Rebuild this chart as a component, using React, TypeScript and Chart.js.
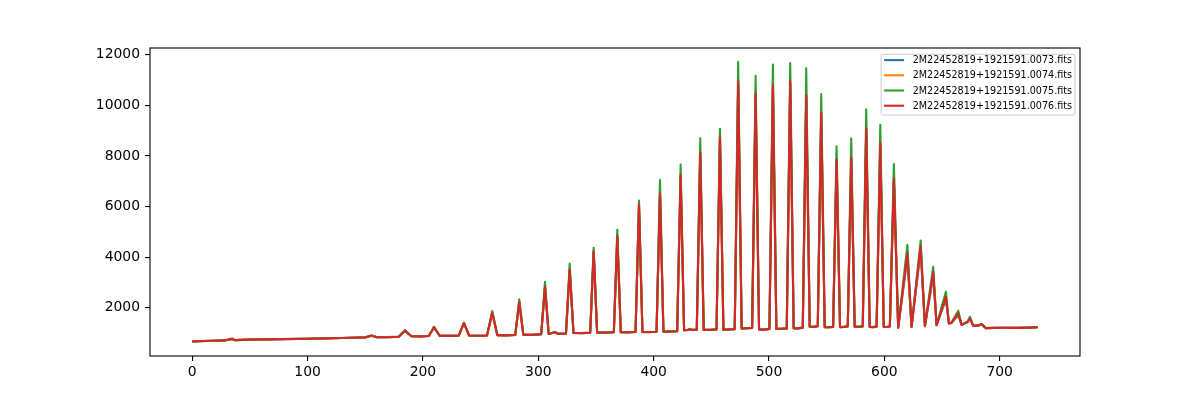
import { useEffect, useRef } from "react";
import { Chart, registerables } from "chart.js";

Chart.register(...registerables);

// pixel index (x) of every key point
const xPos = [
  0, 6, 12, 20, 28, 34.5, 37, 50, 65, 80, 100, 115, 130, 145, 150, 155.5, 160, 170, 179,
  184.4, 190, 198, 205, 209.6, 214.5, 222, 231, 235.5, 240, 248, 255.5, 260.1, 264.5, 272, 280,
  283.5, 287, 295, 302.5, 305.8, 309, 314.5, 317, 324, 327.2, 330.5, 338, 345,
  348, 351, 358, 365.5, 368.5, 371.5, 378, 384.3, 387.3, 390.3, 396, 402.5,
  405.5, 408.5, 414, 420.4, 423.4, 426.4, 430, 431.5, 433, 437.4,
  440.4, 443.4, 450, 454.5, 457.5, 460.5, 465, 470.3,
  473.3, 476.3, 481, 485.4, 488.4, 491.4, 495, 500.4,
  503.4, 506.4, 511, 515.4, 518.4, 521.4, 525, 529.3,
  532.3, 535.3, 539, 542.3, 545.3, 548.3, 552, 555.6,
  558.6, 561.6, 565, 568.3, 571.3, 574.3, 578, 581.3,
  584.3, 587.3, 590, 593.3, 596.5, 599.5, 602, 604.8,
  608.3, 612, 620, 623.6, 631.5, 635.2, 642.4, 645.3,
  653.4, 656, 658, 664.1, 667, 670, 672, 674.2, 677.1, 682, 684.3, 688,
  695, 705, 715, 725, 733,
];

const flux0073 = [
  665, 685, 698, 702, 718, 760, 722, 750, 755, 765, 784, 792, 812, 826, 833, 900, 840, 846, 860,
  1090, 878, 878, 888, 1220, 898, 897, 903, 1385, 908, 898, 908, 1780, 918, 917, 928,
  2200, 938, 937, 958, 2780, 968, 1040, 973, 988, 3460, 1008, 1007, 1018,
  4180, 1028, 1027, 1038, 4780, 1038, 1037, 1048, 5990, 1043, 1047, 1053,
  6440, 1058, 1072, 1078, 7150, 1118, 1132, 1165, 1128, 1138,
  8040, 1128, 1137, 1148, 8630, 1138, 1147, 1158,
  10820, 1188, 1197, 1208, 10340, 1148, 1142, 1168,
  10660, 1168, 1177, 1188, 10810, 1198, 1192, 1218,
  10260, 1258, 1252, 1278, 9570, 1238, 1237, 1248,
  7750, 1238, 1252, 1268, 7830, 1258, 1257, 1268,
  8970, 1248, 1242, 1258, 8400, 1248, 1247, 1268,
  6990, 1215, 3980, 1245, 4250, 1275, 3250, 1315,
  2330, 1385, 1395, 1720, 1325, 1395, 1435, 1560, 1285, 1308, 1350, 1198,
  1208, 1217, 1208, 1222, 1233,
];

const flux0074 = [
  672, 686, 690, 704, 716, 775, 726, 746, 757, 770, 781, 796, 809, 829, 836, 902, 843, 844, 863,
  1095, 881, 874, 891, 1225, 901, 896, 906, 1392, 911, 899, 911, 1795, 921, 916, 931,
  2220, 941, 936, 961, 2800, 971, 1042, 976, 991, 3490, 1011, 1006, 1021,
  4210, 1031, 1026, 1041, 4820, 1041, 1036, 1051, 6030, 1046, 1044, 1056,
  6480, 1061, 1071, 1081, 7200, 1121, 1131, 1168, 1131, 1141,
  8100, 1131, 1136, 1151, 8690, 1141, 1146, 1161,
  10900, 1191, 1196, 1211, 10420, 1151, 1141, 1171,
  10740, 1171, 1176, 1191, 10890, 1201, 1191, 1221,
  10340, 1261, 1251, 1281, 9640, 1241, 1236, 1251,
  7810, 1241, 1251, 1271, 7890, 1261, 1256, 1271,
  9040, 1251, 1241, 1261, 8470, 1251, 1246, 1271,
  7050, 1222, 4080, 1252, 4360, 1282, 3350, 1322,
  2400, 1392, 1402, 1760, 1332, 1402, 1442, 1575, 1292, 1311, 1358, 1201,
  1211, 1216, 1211, 1221, 1236,
];

const flux0075 = [
  675, 690, 692, 708, 712, 770, 728, 745, 760, 770, 780, 798, 808, 830, 838, 910, 845, 848, 865,
  1130, 882, 875, 892, 1260, 902, 893, 908, 1420, 912, 902, 912, 1880, 922, 913, 932,
  2335, 942, 933, 962, 3030, 972, 1050, 977, 992, 3750, 1012, 1003, 1022,
  4370, 1032, 1023, 1042, 5080, 1042, 1033, 1052, 6240, 1047, 1043, 1057,
  7045, 1062, 1068, 1082, 7660, 1122, 1128, 1175, 1132, 1142,
  8690, 1132, 1133, 1152, 9070, 1142, 1143, 1162,
  11716, 1192, 1193, 1212, 11160, 1152, 1138, 1172,
  11610, 1172, 1173, 1192, 11665, 1202, 1188, 1222,
  11455, 1262, 1248, 1282, 10440, 1242, 1233, 1252,
  8380, 1242, 1248, 1272, 8690, 1262, 1253, 1272,
  9840, 1252, 1238, 1262, 9230, 1252, 1243, 1272,
  7680, 1225, 4490, 1255, 4660, 1285, 3620, 1325,
  2640, 1395, 1405, 1890, 1335, 1405, 1445, 1650, 1295, 1312, 1370, 1202,
  1212, 1213, 1212, 1218, 1237,
];

const flux0076 = [
  670, 688, 695, 705, 715, 790, 725, 748, 758, 768, 782, 795, 810, 828, 835, 905, 842, 845, 862,
  1100, 880, 876, 890, 1230, 900, 895, 905, 1400, 910, 900, 910, 1810, 920, 915, 930,
  2240, 940, 935, 960, 2830, 970, 1045, 975, 990, 3520, 1010, 1005, 1020,
  4240, 1030, 1025, 1040, 4850, 1040, 1035, 1050, 6080, 1045, 1045, 1055,
  6520, 1060, 1070, 1080, 7240, 1120, 1130, 1170, 1130, 1140,
  8140, 1130, 1135, 1150, 8740, 1140, 1145, 1160,
  10950, 1190, 1195, 1210, 10470, 1150, 1140, 1170,
  10800, 1170, 1175, 1190, 10950, 1200, 1190, 1220,
  10400, 1260, 1250, 1280, 9700, 1240, 1235, 1250,
  7860, 1240, 1250, 1270, 7940, 1260, 1255, 1270,
  9090, 1250, 1240, 1260, 8520, 1250, 1245, 1270,
  7100, 1220, 4150, 1250, 4440, 1280, 3420, 1320,
  2440, 1390, 1400, 1780, 1330, 1400, 1440, 1585, 1290, 1310, 1360, 1200,
  1210, 1215, 1210, 1220, 1235,
];

const seriesLabels = [
  "2M22452819+1921591.0073.fits",
  "2M22452819+1921591.0074.fits",
  "2M22452819+1921591.0075.fits",
  "2M22452819+1921591.0076.fits",
];
const seriesColors = ["#1f77b4", "#ff7f0e", "#2ca02c", "#d62728"];

const xTicks = [0, 100, 200, 300, 400, 500, 600, 700];
const yTicks = [2000, 4000, 6000, 8000, 10000, 12000];

export default function App() {
  const ref = useRef<HTMLCanvasElement>(null);

  useEffect(() => {
    const canvas = ref.current;
    if (!canvas) return;
    const series = [flux0073, flux0074, flux0075, flux0076];

    const boxPlugin = {
      id: "mplBox",
      afterDatasetsDraw(chart: any) {
        const { ctx, chartArea: a } = chart;
        ctx.save();
        ctx.strokeStyle = "#000";
        ctx.lineWidth = 1.1;
        ctx.strokeRect(a.left, a.top, a.right - a.left, a.bottom - a.top);
        ctx.restore();
      },
    };

    const legendPlugin = {
      id: "mplLegend",
      afterDraw(chart: any) {
        const { ctx, chartArea: a } = chart;
        const fs = 9.6;
        ctx.save();
        ctx.font = `${fs}px "DejaVu Sans"`;
        const labels: string[] = chart.data.datasets.map((d: any) => d.label);
        const tw = Math.max(...labels.map((l) => ctx.measureText(l).width));
        const right = a.right - 5;
        const top = a.top + 6.3;
        const rowH = 15.2;
        const h = 60.7;
        const w = 31.6 + tw + 3;
        const left = right - w;
        ctx.beginPath();
        if ((ctx as any).roundRect) (ctx as any).roundRect(left, top, w, h, 2);
        else ctx.rect(left, top, w, h);
        ctx.fillStyle = "rgba(255,255,255,0.8)";
        ctx.fill();
        ctx.strokeStyle = "#cccccc";
        ctx.lineWidth = 1;
        ctx.stroke();
        labels.forEach((l, i) => {
          const cy = top + 5.8 + i * rowH;
          ctx.beginPath();
          ctx.strokeStyle = chart.data.datasets[i].borderColor;
          ctx.lineWidth = 2.1;
          ctx.moveTo(left + 3, cy);
          ctx.lineTo(left + 23, cy);
          ctx.stroke();
          ctx.fillStyle = "#000";
          ctx.textBaseline = "middle";
          ctx.textAlign = "left";
          ctx.fillText(l, left + 31.6, cy + 0.5);
        });
        ctx.restore();
      },
    };

    const tickFont = { family: "DejaVu Sans", size: 13.9 };

    const chart = new Chart(canvas, {
      type: "line",
      data: {
        datasets: series.map((s, i) => ({
          label: seriesLabels[i],
          data: s.map((y, j) => ({ x: xPos[j], y })),
          borderColor: seriesColors[i],
          backgroundColor: seriesColors[i],
          borderWidth: 2.1,
          borderJoinStyle: "round",
          borderCapStyle: "butt",
          pointRadius: 0,
          tension: 0,
          fill: false,
          order: 4 - i,
        })),
      },
      options: {
        responsive: false,
        animation: false,
        devicePixelRatio: 1,
        layout: { padding: { top: 48, right: 120, left: 0, bottom: 0 } },
        plugins: {
          legend: { display: false },
          tooltip: { enabled: false },
        },
        scales: {
          x: {
            type: "linear",
            min: -36.65,
            max: 769.65,
            afterBuildTicks: (s: any) => {
              s.ticks = xTicks.map((v) => ({ value: v }));
            },
            afterFit: (s: any) => {
              s.height = 44;
            },
            grid: {
              drawOnChartArea: false,
              drawTicks: true,
              tickLength: 5,
              color: "#000",
              lineWidth: 1.1,
            },
            border: { display: false },
            ticks: {
              color: "#000",
              font: tickFont,
              padding: 3,
              maxRotation: 0,
              autoSkip: false,
              callback: (v: any) => String(v),
            },
          },
          y: {
            type: "linear",
            min: 100,
            max: 12260,
            afterBuildTicks: (s: any) => {
              s.ticks = yTicks.map((v) => ({ value: v }));
            },
            afterFit: (s: any) => {
              s.width = 150;
            },
            grid: {
              drawOnChartArea: false,
              drawTicks: true,
              tickLength: 5,
              color: "#000",
              lineWidth: 1.1,
            },
            border: { display: false },
            ticks: {
              color: "#000",
              font: tickFont,
              padding: 5,
              autoSkip: false,
              callback: (v: any) => String(v),
            },
          },
        },
      },
      plugins: [boxPlugin, legendPlugin],
    } as any);

    return () => chart.destroy();
  }, []);

  return (
    <div
      style={{
        position: "fixed",
        left: 0,
        top: 0,
        width: 1200,
        height: 400,
        background: "#fff",
      }}
    >
      <canvas ref={ref} width={1200} height={400} style={{ display: "block" }} />
    </div>
  );
}
